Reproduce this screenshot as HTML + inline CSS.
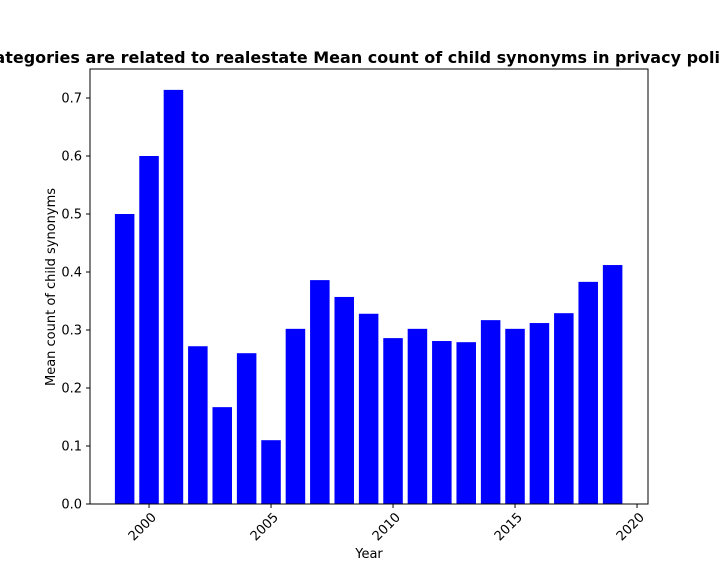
<!DOCTYPE html>
<html><head><meta charset="utf-8"><style>
body{margin:0;background:#fff;width:720px;height:576px;overflow:hidden;font-family:"DejaVu Sans","Liberation Sans",sans-serif}
svg text{font-family:"DejaVu Sans","Liberation Sans",sans-serif}
</style></head><body>
<svg id="chart" width="720" height="576" xmlns="http://www.w3.org/2000/svg"></svg>
<script>
const years=[1999,2000,2001,2002,2003,2004,2005,2006,2007,2008,2009,2010,2011,2012,2013,2014,2015,2016,2017,2018,2019];
const values=[0.5,0.6,0.714,0.272,0.167,0.26,0.110,0.302,0.386,0.357,0.328,0.286,0.302,0.281,0.279,0.317,0.302,0.312,0.329,0.383,0.412];
const yTicks=[0,0.1,0.2,0.3,0.4,0.5,0.6,0.7];
const xTicks=[2000,2005,2010,2015,2020];
const L=90,R=648,T=69,B=504;
const xmin=1997.58,xmax=2020.45,ymax=0.75;
const x=v=>L+(v-xmin)/(xmax-xmin)*(R-L);
const y=v=>B-v/ymax*(B-T);
const svg=document.getElementById('chart');
const NS='http://www.w3.org/2000/svg';
function mk(tag,attrs,text){const e=document.createElementNS(NS,tag);for(const k in attrs)e.setAttribute(k,attrs[k]);if(text!==undefined)e.textContent=text;svg.appendChild(e);return e;}
years.forEach((yr,i)=>{
  const w=x(yr+0.4)-x(yr-0.4);
  const r=mk('rect',{x:x(yr-0.4),y:y(values[i]),width:w,height:B-y(values[i]),fill:'#0000ff'});
  
  
});
const ax=mk('rect',{x:L,y:T,width:R-L,height:B-T,fill:'none',stroke:'#000','stroke-width':1});


yTicks.forEach(t=>{
  mk('line',{x1:L-4,x2:L,y1:y(t),y2:y(t),stroke:'#000'});
  const tx=mk('text',{x:L-8,y:y(t)+4.5,'text-anchor':'end','font-size':13},t.toFixed(1));
  
  
});
xTicks.forEach(t=>{
  mk('line',{x1:x(t),x2:x(t),y1:B,y2:B+4,stroke:'#000'});
  const tx=mk('text',{x:x(t)+8,y:B+14,'text-anchor':'end','font-size':13,transform:`rotate(-45 ${x(t)+8} ${B+14})`},t);
  
  
});
const xl=mk('text',{x:369,y:558,'text-anchor':'middle','font-size':13},'Year');


const yl=mk('text',{x:55,y:287,'text-anchor':'middle','font-size':13,transform:'rotate(-90 55 287)'},'Mean count of child synonyms');


const ti=mk('text',{x:369,y:63,'text-anchor':'middle','font-size':16,'font-weight':'bold'},'Categories are related to realestate Mean count of child synonyms in privacy policies');


</script>
</body></html>
